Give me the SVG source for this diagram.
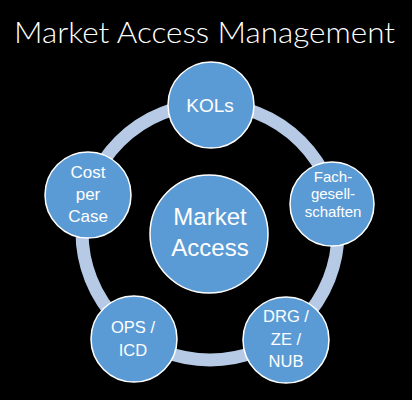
<svg xmlns="http://www.w3.org/2000/svg" width="412" height="400" viewBox="0 0 412 400">
<style>
.title{font-family:"Lato","Liberation Sans",sans-serif;font-weight:300;font-size:30px;fill:#ffffff}
.node{fill:#5b9bd5;stroke:#ffffff;stroke-width:1.5}
.lbl{font-family:"Liberation Sans",Arial,sans-serif;fill:#ffffff;text-anchor:middle}
.ring{fill:none;stroke:#b6cae6;stroke-width:13}
</style>
<rect x="0" y="0" width="412" height="400" fill="#000000"/>
<text class="title" x="14" y="43" textLength="381" lengthAdjust="spacingAndGlyphs">Market Access Management</text>
<g id="connectors">
<circle class="ring" cx="210" cy="232" r="128"/>
</g>
<g id="center">
<circle class="node" cx="209" cy="234" r="59"/>
<text class="lbl" x="210" y="225" font-size="24">Market</text>
<text class="lbl" x="210" y="256" font-size="24">Access</text>
</g>
<g id="kols">
<circle class="node" cx="211" cy="105" r="43"/>
<text class="lbl" x="210" y="112" font-size="19">KOLs</text>
</g>
<g id="fach">
<circle class="node" cx="332" cy="204" r="42"/>
<text class="lbl" x="333" y="182" font-size="15">Fach-</text>
<text class="lbl" x="333" y="199" font-size="15">gesell-</text>
<text class="lbl" x="333" y="217" font-size="15">schaften</text>
</g>
<g id="drg">
<circle class="node" cx="286" cy="340" r="43"/>
<text class="lbl" x="286" y="322" font-size="16.5">DRG /</text>
<text class="lbl" x="286" y="345" font-size="16.5">ZE /</text>
<text class="lbl" x="286" y="367" font-size="16.5">NUB</text>
</g>
<g id="ops">
<circle class="node" cx="134" cy="339" r="43"/>
<text class="lbl" x="133" y="333" font-size="16.5">OPS /</text>
<text class="lbl" x="133" y="356" font-size="16.5">ICD</text>
</g>
<g id="cost">
<circle class="node" cx="88" cy="195" r="43"/>
<text class="lbl" x="88" y="178" font-size="17">Cost</text>
<text class="lbl" x="88" y="200" font-size="17">per</text>
<text class="lbl" x="88" y="222" font-size="17">Case</text>
</g>
</svg>
